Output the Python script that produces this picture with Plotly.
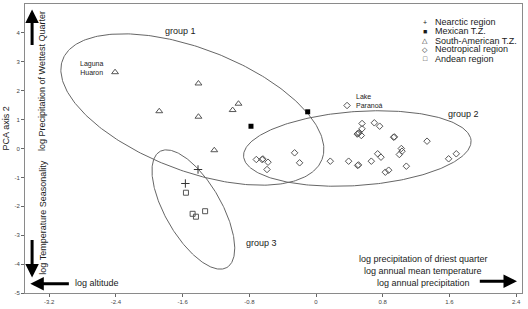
import numpy as np
import plotly.graph_objects as go

# ---------------- data ----------------
nearctic_x = [-1.415, -1.567]
nearctic_y = [-0.727, -1.211]

mexican_x = [-0.78, -0.10]
mexican_y = [0.77, 1.27]

south_am_x = [-2.41, -1.88, -1.41, -1.41, -0.93, -1.00, -1.22]
south_am_y = [2.64, 1.29, 2.25, 1.10, 1.55, 1.33, -0.06]

andean_x = [-1.56, -1.48, -1.44, -1.33]
andean_y = [-1.53, -2.26, -2.36, -2.17]

neotrop_x = [0.372, -0.716, -0.647, -0.637, -0.576, -0.588, -0.257, -0.197, 0.171, 0.391,
             0.499, 0.509, 0.552, 0.552, 0.504, 0.514, 0.494, 0.543, 0.699, 0.763,
             0.930, 0.940, 1.331, 1.023, 1.031, 0.999, 0.739, 0.779, 0.663, 1.083,
             0.831, 0.871, 1.590, 1.682]
neotrop_y = [1.488, -0.381, -0.381, -0.361, -0.474, -0.727, -0.149, -0.495, -0.439, -0.439,
             -0.588, -0.568, 0.865, 0.682, 0.519, 0.539, 0.499, 0.450, 0.889, 0.772,
             0.391, 0.401, 0.253, 0.0, -0.093, -0.208, -0.183, -0.301, -0.439, -0.612,
             -0.820, -0.751, -0.356, -0.183]

# group ellipses: centre, first half-axis vector, second half-axis vector (data units)
groups = {
    "group 1": dict(c=(-1.483, 1.349), u=(1.555, -1.727), v=(-0.263, -1.969)),
    "group 2": dict(c=(0.495, 0.0), u=(1.364, 0.275), v=(0.031, -1.277)),
    "group 3": dict(c=(-1.471, -2.111), u=(0.402, -2.007), v=(-0.291, -0.484)),
}

x_ticks = [-3.2, -2.4, -1.6, -0.8, 0, 0.8, 1.6, 2.4]
x_tick_text = ["-3.2", "-2.4", "-1.6", "-0.8", "0", "0.8", "1.6", "2.4"]
y_ticks = [4, 3, 2, 1, 0, -1, -2, -3, -4, -5]
y_tick_text = ["4", "3", "2", "1", "0", "-1", "-2", "-3", "-4", "-5"]

legend_labels = ["Nearctic region", "Mexican T.Z.", "South-American T.Z.",
                 "Neotropical region", "Andean region"]
legend_symbols = ["+", "■", "△", "◇", "□"]

FONT = "Liberation Sans, Arial, sans-serif"
MC = "#555555"

fig = go.Figure()

# ellipses
t = np.linspace(0, 2 * np.pi, 300)
for name, g in groups.items():
    ex = g["c"][0] + np.cos(t) * g["u"][0] + np.sin(t) * g["v"][0]
    ey = g["c"][1] + np.cos(t) * g["u"][1] + np.sin(t) * g["v"][1]
    fig.add_trace(go.Scatter(x=ex, y=ey, mode="lines",
                             line=dict(color="#666666", width=1), hoverinfo="skip"))

fig.add_trace(go.Scatter(x=nearctic_x, y=nearctic_y, mode="markers",
                         marker=dict(symbol="cross-thin", size=6,
                                     line=dict(color="#333333", width=1))))
fig.add_trace(go.Scatter(x=mexican_x, y=mexican_y, mode="markers",
                         marker=dict(symbol="square", size=5, color="#000000")))
fig.add_trace(go.Scatter(x=south_am_x, y=south_am_y, mode="markers",
                         marker=dict(symbol="triangle-up-open", size=6,
                                     color=MC, line=dict(width=1))))
fig.add_trace(go.Scatter(x=andean_x, y=andean_y, mode="markers",
                         marker=dict(symbol="square-open", size=5,
                                     color=MC, line=dict(width=1))))
fig.add_trace(go.Scatter(x=neotrop_x, y=neotrop_y, mode="markers",
                         marker=dict(symbol="diamond-open", size=5,
                                     color=MC, line=dict(width=1))))

ann = []
def txt(x, y, s, size=9, xanchor="center", yanchor="middle", ref="data", angle=0, align="center"):
    d = dict(x=x, y=y, text=s, showarrow=False, xanchor=xanchor, yanchor=yanchor,
             font=dict(family=FONT, size=size, color="#1a1a1a"), textangle=angle, align=align)
    if ref == "paper":
        d.update(xref="paper", yref="paper")
    else:
        d.update(xref="x", yref="y")
    ann.append(d)

txt(-1.625, 4.08, "group 1")
txt(1.77, 1.18, "group 2")
txt(-0.65, -3.26, "group 3")
txt(-2.69, 2.80, "Laguna<br>Huaron", size=7)
txt(0.455, 1.64, "Lake<br>Paranoá", size=7, xanchor="left", align="left")

# legend
leg_y = [4.37, 4.06, 3.73, 3.43, 3.11]
for s, lab, yy in zip(legend_symbols, legend_labels, leg_y):
    txt(1.311, yy, s, size=7)
    txt(1.40, yy, lab, size=9, xanchor="left")

# axis-direction labels
txt(-3.285, 2.34, "log Precipitation of Wettest Quarter", angle=-90)
txt(-3.285, -2.39, "log Temperature Seasonality", angle=-90)
txt(-2.92, -4.64, "log altitude", xanchor="left")
txt(1.287, -3.84, "log precipitation of driest quarter")
txt(1.287, -4.25, "log annual mean temperature")
txt(1.287, -4.65, "log annual precipitation")

# axis titles
txt(-0.038, 0.57, "PCA axis 2", ref="paper", angle=-90)
txt(0.555, -0.062, "PCA axis 1", ref="paper", yanchor="top")

# arrows
def arrow(x, y, ax, ay):
    ann.append(dict(x=x, y=y, ax=ax, ay=ay, xref="x", yref="y", axref="x", ayref="y",
                    text="", showarrow=True, arrowhead=2, arrowsize=0.9,
                    arrowwidth=3, arrowcolor="#000000"))

arrow(-3.405, 4.81, -3.405, 3.53)
arrow(-3.405, -4.46, -3.405, -3.11)
arrow(-3.426, -4.68, -2.946, -4.68)
arrow(2.41, -4.59, 1.946, -4.59)

fig.update_layout(
    width=528, height=309,
    margin=dict(l=25, r=6, t=4, b=16),
    plot_bgcolor="white", paper_bgcolor="white",
    showlegend=False,
    annotations=ann,
    font=dict(family=FONT),
)
fig.update_xaxes(range=[-3.49, 2.47], tickvals=x_ticks, ticktext=x_tick_text,
                 showgrid=False, zeroline=False, showline=True, mirror=True,
                 linecolor="#8a8a8a", linewidth=1, ticks="outside", ticklen=3,
                 tickcolor="#666666", tickfont=dict(size=6, color="#444444", family=FONT))
fig.update_yaxes(range=[-5, 5], tickvals=y_ticks, ticktext=y_tick_text,
                 showgrid=False, zeroline=False, showline=True, mirror=True,
                 linecolor="#8a8a8a", linewidth=1, ticks="outside", ticklen=3,
                 tickcolor="#666666", tickfont=dict(size=6, color="#444444", family=FONT))

fig.write_html("out.html")
